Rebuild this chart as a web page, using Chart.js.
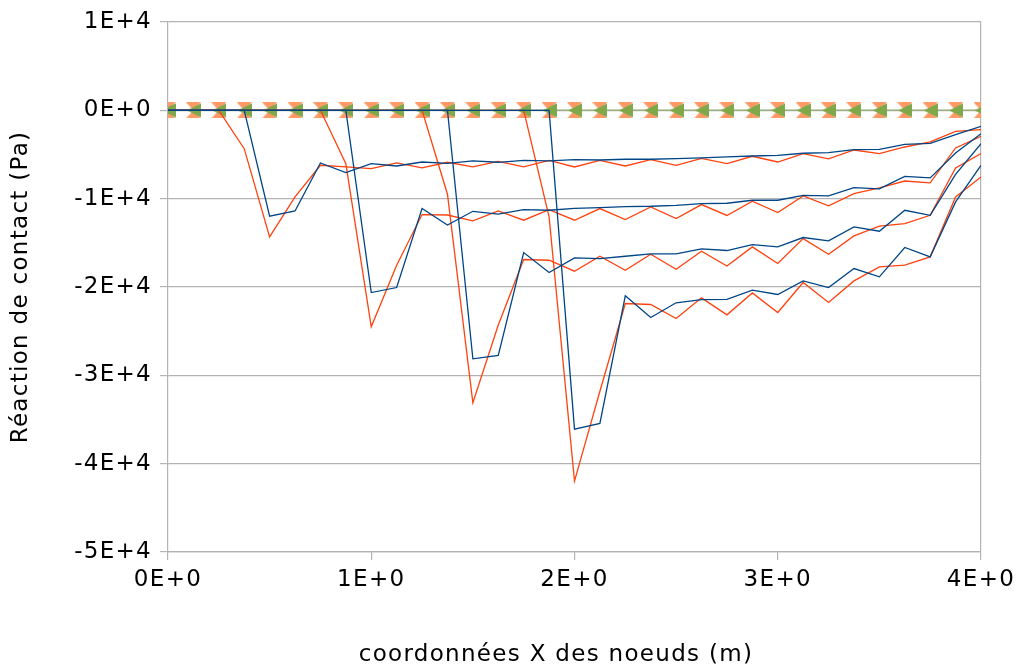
<!DOCTYPE html>
<html>
<head>
<meta charset="utf-8">
<script src="https://cdn.jsdelivr.net/npm/chart.js@4.4.1/dist/chart.umd.min.js"></script>
<style>
html,body{margin:0;padding:0;background:#fff;}
#c{display:block;}
</style>
</head>
<body>
<canvas id="c" width="1022" height="668"></canvas>
<script>
// ---- data ----
const xNodes = [0,0.125,0.25,0.375,0.5,0.625,0.75,0.875,1,1.125,1.25,1.375,1.5,1.625,1.75,1.875,2,2.125,2.25,2.375,2.5,2.625,2.75,2.875,3,3.125,3.25,3.375,3.5,3.625,3.75,3.875,4];

const blue1 = [0,0,0,0,-11990,-11390,-5960,-7050,-6030,-6300,-5850,-6000,-5730,-5880,-5660,-5730,-5580,-5620,-5540,-5540,-5470,-5390,-5280,-5170,-5090,-4860,-4790,-4450,-4410,-3850,-3730,-2750,-1810];
const orange1 = [0,0,0,-4340,-14330,-9800,-6220,-6410,-6600,-5960,-6520,-5880,-6410,-5770,-6410,-5660,-6410,-5660,-6300,-5580,-6220,-5430,-6030,-5200,-5850,-4900,-5500,-4490,-4900,-4150,-3580,-2380,-2190];
const blue2 = [0,0,0,0,0,0,0,0,-20630,-20060,-11120,-12990,-11430,-11760,-11240,-11310,-11090,-11010,-10900,-10860,-10750,-10560,-10520,-10180,-10180,-9620,-9690,-8750,-8900,-7470,-7650,-4830,-2640];
const orange2 = [0,0,0,0,0,0,0,-6030,-24510,-17530,-11800,-11850,-12520,-11390,-12440,-11240,-12440,-11120,-12370,-10940,-12260,-10670,-11900,-10290,-11580,-9690,-10820,-9430,-8790,-8000,-8220,-4260,-2940];
const blue3 = [0,0,0,0,0,0,0,0,0,0,0,0,-28130,-27750,-16100,-18360,-16700,-16780,-16520,-16250,-16250,-15690,-15870,-15200,-15460,-14400,-14780,-13200,-13690,-11310,-11880,-7240,-3770];
const orange3 = [0,0,0,0,0,0,0,0,0,0,0,-9500,-33110,-24300,-16890,-16970,-18210,-16520,-18100,-16290,-17990,-15950,-17620,-15460,-17340,-14520,-16290,-14220,-13120,-12820,-11880,-6520,-4900];
const blue4 = [0,0,0,0,0,0,0,0,0,0,0,0,0,0,0,0,-36090,-35450,-21000,-23450,-21790,-21420,-21400,-20360,-20850,-19310,-20060,-17910,-18850,-15530,-16590,-10370,-6220];
const orange4 = [0,0,0,0,0,0,0,0,0,0,0,0,0,0,0,-12070,-41970,-31800,-21870,-21980,-23570,-21230,-23150,-20670,-22890,-19490,-21750,-19310,-17720,-17530,-16590,-9800,-7540];
const zeroGreen = [0,0,0,0,0,0,0,0,0,0,0,0,0,0,0,0,0,0,0,0,0,0,0,0,0,0,0,0,0,0,0,0,0];
const zeroOrange = [0,0,0,0,0,0,0,0,0,0,0,0,0,0,0,0,0,0,0,0,0,0,0,0,0,0,0,0,0,0,0,0,0];

const xTickLabels = ['0E+0','1E+0','2E+0','3E+0','4E+0'];
const yTickLabels = ['-5E+4','-4E+4','-3E+4','-2E+4','-1E+4','0E+0','1E+4'];

const xTitle = 'coordonnées X des noeuds (m)';
const yTitle = 'Réaction de contact (Pa)';

// ---- marker images ----
function sandglass(){
  const c = document.createElement('canvas');
  c.width = 15; c.height = 16;
  const g = c.getContext('2d');
  g.fillStyle = '#ff9a66';
  g.beginPath(); g.moveTo(0,0); g.lineTo(15,0); g.lineTo(7.5,8); g.closePath(); g.fill();
  g.beginPath(); g.moveTo(0,16); g.lineTo(15,16); g.lineTo(7.5,8); g.closePath(); g.fill();
  return c;
}
function leftTri(){
  const c = document.createElement('canvas');
  c.width = 15; c.height = 15;
  const g = c.getContext('2d');
  g.fillStyle = '#7ea84a';
  g.beginPath(); g.moveTo(1,7.5); g.lineTo(15,0.5); g.lineTo(15,14.5); g.closePath(); g.fill();
  return c;
}

const pts = arr => arr.map((v,i)=>({x:xNodes[i], y:v}));
const BLUE = '#004586', ORANGE = '#ff420e';
function lineDs(arr,color){
  return {data:pts(arr), borderColor:color, backgroundColor:color, borderWidth:1.3, pointRadius:0, pointHoverRadius:0, tension:0, fill:false};
}

const datasets = [
  lineDs(blue1,BLUE), lineDs(blue2,BLUE), lineDs(blue3,BLUE), lineDs(blue4,BLUE),
  lineDs(orange1,ORANGE), lineDs(orange2,ORANGE), lineDs(orange3,ORANGE), lineDs(orange4,ORANGE),
  {data:pts(zeroGreen), borderColor:'#98ad7c', borderWidth:1.5, pointStyle:leftTri(), pointRadius:7, tension:0, fill:false},
  {data:pts(zeroOrange), showLine:false, borderWidth:0, pointStyle:sandglass(), pointRadius:8}
];

const FONT = 'DejaVu Sans';
const spacing = {
  id:'spacing',
  beforeLayout(chart){ chart.ctx.letterSpacing = '1.3px'; },
  beforeDraw(chart){ chart.ctx.letterSpacing = '1.3px'; },
  afterDraw(chart){
    const ctx = chart.ctx;
    ctx.save();
    ctx.letterSpacing = '1.3px';
    ctx.font = '23px "' + FONT + '"';
    ctx.fillStyle = '#000';
    ctx.textAlign = 'center';
    ctx.textBaseline = 'middle';
    ctx.fillText(xTitle, 556, 655);
    ctx.restore();
  }
};

new Chart(document.getElementById('c'), {
  type:'line',
  data:{datasets},
  plugins:[spacing],
  options:{
    responsive:false,
    devicePixelRatio:1,
    animation:false,
    events:[],
    layout:{padding:{top:22,right:41,left:0,bottom:0}},
    plugins:{legend:{display:false}, tooltip:{enabled:false}},
    scales:{
      x:{
        type:'linear', min:0, max:4,
        ticks:{stepSize:1, color:'#000', font:{family:FONT,size:23}, padding:6, maxRotation:0,
          callback:(v,i)=>xTickLabels[i]},
        grid:{color:(ctx)=> (ctx.index===4 ? '#b3b3b3' : 'rgba(0,0,0,0)'), tickColor:'#b3b3b3', tickLength:8, lineWidth:1.2},
        border:{color:'#b3b3b3', width:1.2},
        title:{display:false, text:xTitle},
        afterFit:(s)=>{s.height = 116;}
      },
      y:{
        type:'linear', min:-50000, max:10000,
        ticks:{stepSize:10000, color:'#000', font:{family:FONT,size:23}, padding:8,
          callback:(v,i)=>yTickLabels[i]},
        grid:{color:'#b3b3b3', tickColor:'#b3b3b3', tickLength:8, lineWidth:1.2},
        border:{color:'#b3b3b3', width:1.2},
        title:{display:true, text:yTitle, color:'#000', font:{family:FONT,size:23}, padding:{top:7,bottom:0}},
        afterFit:(s)=>{s.width = 168;}
      }
    }
  }
});
</script>
</body>
</html>
